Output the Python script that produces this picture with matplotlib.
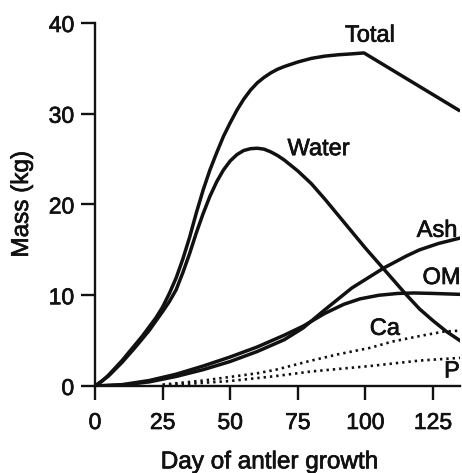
import matplotlib
matplotlib.use("Agg")
import matplotlib.pyplot as plt
import matplotlib.patheffects as pe

# values (day, kg)
total_day = [0, 2.5, 5, 7.5, 10, 12.5, 15, 17.5, 20, 22.5, 25, 27.5, 30, 32.5, 35, 37.5, 40,
             42.5, 45, 47.5, 50, 52.5, 55, 57.5, 60, 62.5, 65, 67.5, 70, 75, 80, 85, 90, 95,
             99.5, 134.5]
total_kg = [0, 0.5, 1.2, 2.0, 2.8, 3.7, 4.6, 5.5, 6.5, 7.5, 8.7, 10.2, 11.9, 14.0, 16.4, 19.1, 21.6,
            23.8, 25.7, 27.5, 29.0, 30.4, 31.6, 32.6, 33.4, 34.0, 34.5, 34.9, 35.2, 35.7, 36.1, 36.35,
            36.5, 36.6, 36.7, 30.4]

water_day = [0, 5, 10, 15, 20, 25, 27.5, 30, 32.5, 35, 37.5, 40, 42.5, 45, 47.5, 50, 52.5, 55,
             57.5, 60, 62.5, 65, 67.5, 70, 75, 80, 85, 90, 95, 100, 105, 110, 115, 120, 125,
             130, 135]
water_kg = [0, 1.1, 2.6, 4.3, 6.1, 8.2, 9.3, 10.6, 12.5, 14.6, 16.9, 19.0, 20.9, 22.5, 23.8, 24.8,
            25.5, 25.95, 26.15, 26.2, 26.1, 25.8, 25.4, 24.9, 23.7, 22.3, 20.6, 18.8, 17.0, 15.2,
            13.5, 11.8, 10.1, 8.5, 7.2, 6.0, 5.0]

ash_day = [0, 10, 20, 30, 40, 50, 60, 70, 77, 85, 95, 106.8, 115, 120, 127, 135]
ash_kg = [0, 0.1, 0.45, 1.05, 1.8, 2.7, 3.8, 5.1, 6.4, 8.4, 10.8, 13.0, 14.3, 15.0, 15.7, 16.3]

om_day = [0, 10, 20, 30, 40, 50, 60, 70, 77, 85, 92, 98, 105, 112, 118, 125, 135]
om_kg = [0, 0.15, 0.6, 1.3, 2.2, 3.2, 4.3, 5.6, 6.6, 8.0, 9.0, 9.6, 10.0, 10.2, 10.25, 10.2, 10.1]

ca_day = [25, 30, 40, 50, 60, 67, 80, 90, 101.7, 110, 120, 129, 135]
ca_kg = [0.15, 0.3, 0.6, 1.0, 1.4, 1.8, 2.8, 3.5, 4.2, 4.9, 5.5, 6.0, 6.1]

p_day = [25, 35, 50, 67, 80, 101.7, 120, 135]
p_kg = [0.1, 0.25, 0.55, 1.1, 1.6, 2.2, 2.8, 3.1]

labels = ["Total", "Water", "Ash", "OM", "Ca", "P"]
label_day = [101.7, 82.7, 126.5, 128.2, 107.2, 132.0]
label_kg = [38.6, 26.1, 17.1, 11.9, 6.3, 1.6]

plt.rcParams["font.family"] = ["Liberation Sans", "DejaVu Sans"]
INK = "#111111"
bold_ink = [pe.withStroke(linewidth=0.5, foreground=INK)]

fig = plt.figure(figsize=(4.62, 4.73), dpi=100)
ax = fig.add_axes([95 / 462, 87 / 473, 365 / 462, 363 / 473])

lw = 2.5
for xs, ys in [(total_day, total_kg), (water_day, water_kg), (ash_day, ash_kg), (om_day, om_kg)]:
    ax.plot(xs, ys, color=INK, lw=lw, solid_joinstyle="round")
ax.plot(ca_day, ca_kg, color=INK, lw=1.9, ls=(0, (0.9, 1.5)))
ax.plot(p_day, p_kg, color=INK, lw=1.9, ls=(0, (0.9, 1.5)))

for t, x, y in zip(labels, label_day, label_kg):
    ax.text(x, y, t, ha="center", va="center", fontsize=17, color=INK, clip_on=False,
            path_effects=bold_ink)

ax.set_xlim(0, 135)
ax.set_ylim(0, 40)
ax.set_xticks([0, 25, 50, 75, 100, 125])
ax.set_yticks([0, 10, 20, 30, 40])
ax.spines["top"].set_visible(False)
ax.spines["right"].set_visible(False)
for s in ("left", "bottom"):
    ax.spines[s].set_linewidth(1.7)
    ax.spines[s].set_color(INK)
ax.tick_params(direction="out", length=10, width=1.7, labelsize=16.5, colors=INK)
ax.tick_params(axis="x", pad=8)
ax.tick_params(axis="y", pad=5)
for lab in ax.get_xticklabels() + ax.get_yticklabels():
    lab.set_path_effects(bold_ink)

ax.set_xlabel("Day of antler growth", fontsize=17.5, color=INK, path_effects=bold_ink)
ax.set_ylabel("Mass (kg)", fontsize=17.5, color=INK, path_effects=bold_ink)
ax.xaxis.set_label_coords(0.477, -0.18)
ax.yaxis.set_label_coords(-0.17, 0.5)

fig.savefig("out.png", dpi=100)
